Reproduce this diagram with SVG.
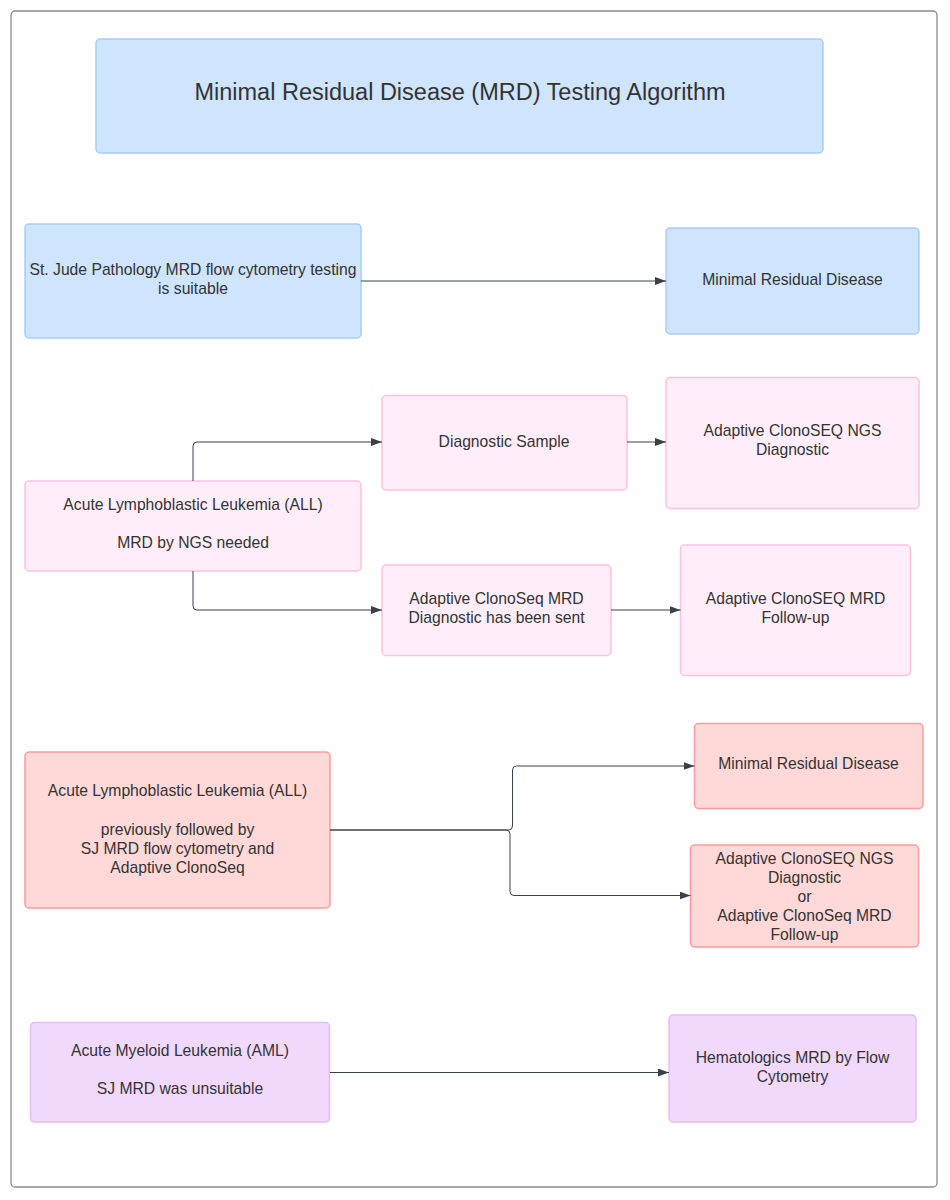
<svg xmlns="http://www.w3.org/2000/svg" width="950" height="1200" viewBox="0 0 950 1200">
<style>
text{font-family:"Liberation Sans",Arial,sans-serif;font-size:15.7px;fill:#333;text-anchor:middle}
.title{font-size:23.5px}
.box{stroke-width:1.5}
.blue{fill:#cfe4fd;stroke:#a9cdf7}
.pink{fill:#ffeef9;stroke:#ffc1de}
.red{fill:#ffd8d8;stroke:#ff9b9b}
.purple{fill:#f1d9fc;stroke:#e6bcf7}
.conn{fill:none;stroke:#3a414a;stroke-width:1;marker-end:url(#arr)}
</style>
<defs>
<marker id="arr" markerUnits="userSpaceOnUse" markerWidth="11" markerHeight="8" refX="11" refY="4" orient="auto">
<path d="M0,0 L11,4 L0,8 z" fill="#3a414a"/>
</marker>
</defs>
<rect x="0" y="0" width="950" height="1200" fill="#fff"/>
<rect x="11" y="11" width="926" height="1176" rx="4" fill="#fff" stroke="#8c8c8c" stroke-width="1.3"/>

<g id="title">
<rect class="box blue" x="96" y="39" width="727" height="114" rx="4"/>
<text class="title" x="460" y="100">Minimal Residual Disease (MRD) Testing Algorithm</text>
</g>

<g id="sj-suitable">
<rect class="box blue" x="25" y="224" width="336" height="114" rx="4"/>
<text x="193" y="275">St. Jude Pathology MRD flow cytometry testing</text>
<text x="193" y="293.5">is suitable</text>
</g>
<g id="mrd-blue">
<rect class="box blue" x="666" y="228" width="253" height="106" rx="4"/>
<text x="792.5" y="285">Minimal Residual Disease</text>
</g>

<g id="all-ngs">
<rect class="box pink" x="25" y="481" width="336" height="90" rx="4"/>
<text x="193" y="510">Acute Lymphoblastic Leukemia (ALL)</text>
<text x="193" y="548">MRD by NGS needed</text>
</g>
<g id="diag-sample">
<rect class="box pink" x="382" y="395.5" width="245" height="94.5" rx="4"/>
<text x="504" y="447">Diagnostic Sample</text>
</g>
<g id="ngs-diag">
<rect class="box pink" x="666" y="377.5" width="253" height="131" rx="4"/>
<text x="792.5" y="436">Adaptive ClonoSEQ NGS</text>
<text x="792.5" y="455">Diagnostic</text>
</g>
<g id="diag-sent">
<rect class="box pink" x="382" y="565" width="229" height="90.5" rx="4"/>
<text x="496.5" y="604">Adaptive ClonoSeq MRD</text>
<text x="496.5" y="623">Diagnostic has been sent</text>
</g>
<g id="mrd-followup">
<rect class="box pink" x="680.5" y="545" width="230" height="130.5" rx="4"/>
<text x="795.5" y="603.5">Adaptive ClonoSEQ MRD</text>
<text x="795.5" y="622.5">Follow-up</text>
</g>

<g id="all-prev">
<rect class="box red" x="25" y="752" width="305" height="156" rx="4"/>
<text x="177.5" y="796">Acute Lymphoblastic Leukemia (ALL)</text>
<text x="177.5" y="834.5">previously followed by</text>
<text x="177.5" y="853.5">SJ MRD flow cytometry and</text>
<text x="177.5" y="872.5">Adaptive ClonoSeq</text>
</g>
<g id="mrd-red">
<rect class="box red" x="694.5" y="723.5" width="228.5" height="85" rx="4"/>
<text x="808.5" y="768.5">Minimal Residual Disease</text>
</g>
<g id="ngs-or-mrd">
<rect class="box red" x="690.5" y="845" width="228" height="102" rx="4"/>
<text x="804.5" y="864">Adaptive ClonoSEQ NGS</text>
<text x="804.5" y="883">Diagnostic</text>
<text x="804.5" y="902">or</text>
<text x="804.5" y="921">Adaptive ClonoSeq MRD</text>
<text x="804.5" y="940">Follow-up</text>
</g>

<g id="aml">
<rect class="box purple" x="30.5" y="1022.5" width="299" height="99.5" rx="4"/>
<text x="180" y="1056">Acute Myeloid Leukemia (AML)</text>
<text x="180" y="1094">SJ MRD was unsuitable</text>
</g>
<g id="hematologics">
<rect class="box purple" x="669" y="1015" width="247" height="107" rx="4"/>
<text x="792.5" y="1062.5">Hematologics MRD by Flow</text>
<text x="792.5" y="1081.5">Cytometry</text>
</g>

<g id="connectors">
<path class="conn" d="M361 281 H666"/>
<path class="conn" d="M193 481 V446 Q193 442 197 442 H382"/>
<path class="conn" d="M627 442 H666"/>
<path class="conn" d="M193 571 V606 Q193 610 197 610 H382"/>
<path class="conn" d="M611 610 H680.5"/>
<path class="conn" d="M330 830 H508.5 Q512.5 830 512.5 826 V770 Q512.5 766 516.5 766 H694.5"/>
<path class="conn" d="M330 830 H506 Q510 830 510 834 V891.5 Q510 895.5 514 895.5 H690.5"/>
<path class="conn" d="M330 1072.5 H669"/>
</g>
</svg>
